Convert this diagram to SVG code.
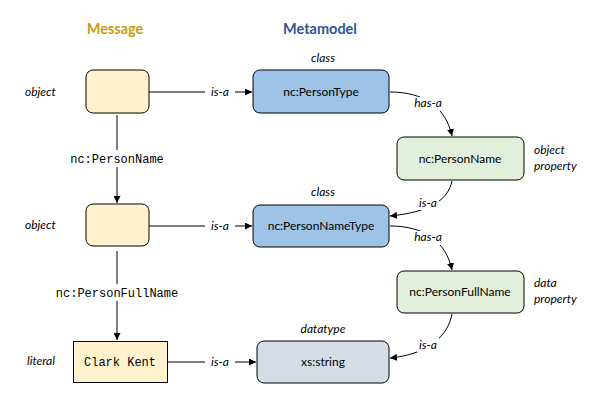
<svg xmlns="http://www.w3.org/2000/svg" width="601" height="402" viewBox="0 0 601 402">
<defs>
<style>
.t{font-family:Lato,"Open Sans","Liberation Sans",sans-serif;font-size:12px;fill:#000}
.i{font-style:italic}
.m{font-family:"Liberation Mono","DejaVu Sans Mono",monospace;font-size:12px;fill:#000}
.h{font-family:Lato,"Open Sans","Liberation Sans",sans-serif;font-size:14.5px;font-weight:bold}
.b{stroke:#000;stroke-width:1}
.e{fill:none;stroke:#000;stroke-width:1;marker-end:url(#a)}
.bg{fill:#fff}
</style>
<marker id="a" viewBox="0 0 10 10" refX="10" refY="5" markerWidth="7" markerHeight="7" orient="auto" markerUnits="userSpaceOnUse">
<path d="M0,0 L10,5 L0,10 z" fill="#000"/>
</marker>
</defs>
<rect width="601" height="402" fill="#fff"/>
<text class="h" x="115" y="34" text-anchor="middle" fill="#C99A0E">Message</text>
<text class="h" x="320" y="34" text-anchor="middle" fill="#2F5597">Metamodel</text>

<g id="labels">
<text class="t i" x="25" y="96">object</text>
<text class="t i" x="25" y="229">object</text>
<text class="t i" x="27" y="365">literal</text>
<text class="t i" x="323" y="62" text-anchor="middle">class</text>
<text class="t i" x="323" y="196" text-anchor="middle">class</text>
<text class="t i" x="323" y="333" text-anchor="middle">datatype</text>
<text class="t i" x="534" y="154">object</text>
<text class="t i" x="534" y="170">property</text>
<text class="t i" x="534" y="287">data</text>
<text class="t i" x="534" y="303">property</text>
</g>

<g id="connectors">
<path class="e" d="M149,92 H252"/>
<rect class="bg" x="205" y="84" width="30" height="16"/>
<text class="t i" x="220" y="96" text-anchor="middle">is-a</text>

<path class="e" d="M149,226 H252"/>
<rect class="bg" x="205" y="218" width="30" height="16"/>
<text class="t i" x="220" y="230" text-anchor="middle">is-a</text>

<path class="e" d="M168,362 H256"/>
<rect class="bg" x="205" y="354" width="30" height="16"/>
<text class="t i" x="220" y="366" text-anchor="middle">is-a</text>

<path class="e" d="M117,115 V203"/>
<rect class="bg" x="64" y="150" width="106" height="17"/>
<text class="m" x="117" y="163" text-anchor="middle">nc:PersonName</text>

<path class="e" d="M117,251 V340"/>
<rect class="bg" x="52" y="284" width="130" height="17"/>
<text class="m" x="117" y="297" text-anchor="middle">nc:PersonFullName</text>

<path class="e" d="M390,92 C425,92 446,108 452,136"/>
<rect class="bg" x="412" y="97" width="32" height="14"/>
<text class="t i" x="428" y="107" text-anchor="middle">has-a</text>

<path class="e" d="M452,181 C448,200 430,212 390,216"/>
<rect class="bg" x="417" y="196" width="22" height="14"/>
<text class="t i" x="428" y="207" text-anchor="middle">is-a</text>

<path class="e" d="M390,226 C425,226 446,242 452,270"/>
<rect class="bg" x="412" y="231" width="32" height="14"/>
<text class="t i" x="428" y="241" text-anchor="middle">has-a</text>

<path class="e" d="M452,314 C448,335 430,354 390,358"/>
<rect class="bg" x="417" y="338" width="22" height="14"/>
<text class="t i" x="428" y="349" text-anchor="middle">is-a</text>
</g>

<g id="obj1"><rect class="b" x="86" y="70" width="63" height="43" rx="7" fill="#FFF2CC"/></g>
<g id="obj2"><rect class="b" x="86" y="204" width="63" height="42" rx="7" fill="#FFF2CC"/></g>
<g id="literal"><rect class="b" x="73.5" y="341.5" width="94" height="41" fill="#FFF2CC"/>
<text class="m" x="120" y="366" text-anchor="middle">Clark Kent</text></g>
<g id="PersonType"><rect class="b" x="253" y="70" width="136" height="43" rx="7" fill="#9DC3E6"/>
<text class="t" x="321" y="96" text-anchor="middle">nc:PersonType</text></g>
<g id="PersonNameType"><rect class="b" x="253" y="205" width="136" height="42" rx="7" fill="#9DC3E6"/>
<text class="t" x="321" y="230" text-anchor="middle">nc:PersonNameType</text></g>
<g id="xsstring"><rect class="b" x="257" y="341" width="132" height="42" rx="7" fill="#D6DCE5"/>
<text class="t" x="323" y="366" text-anchor="middle">xs:string</text></g>
<g id="PersonName"><rect class="b" x="397" y="137" width="127" height="43" rx="7" fill="#E2EFDA"/>
<text class="t" x="460" y="163" text-anchor="middle">nc:PersonName</text></g>
<g id="PersonFullName"><rect class="b" x="397" y="271" width="127" height="42" rx="7" fill="#E2EFDA"/>
<text class="t" x="460" y="296" text-anchor="middle">nc:PersonFullName</text></g>
</svg>
